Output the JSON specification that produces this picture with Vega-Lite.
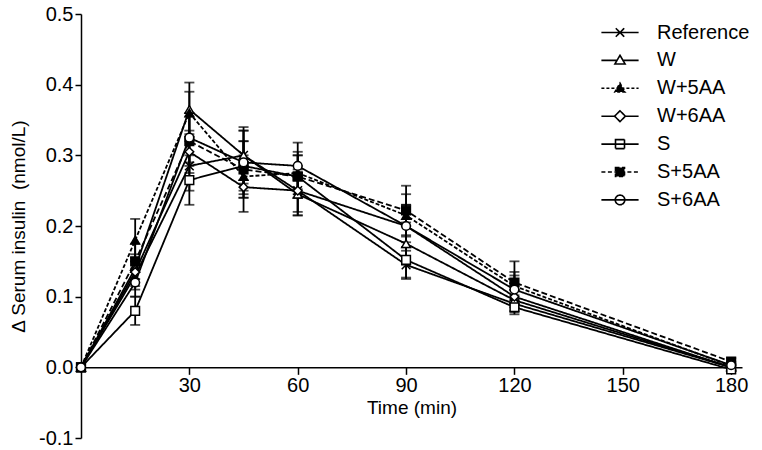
{
  "$schema": "https://vega.github.io/schema/vega-lite/v6.json",
  "autosize": {"type": "none"},
  "width": 661,
  "height": 424,
  "padding": {"left": 81, "top": 14, "right": 20, "bottom": 12},
  "config": {
    "view": {"stroke": null},
    "font": "Liberation Sans",
    "axis": {"labelColor": "black", "titleColor": "black", "domainColor": "black", "tickColor": "black", "domainWidth": 1.5, "tickWidth": 1.5, "grid": false, "labelFont": "Liberation Sans", "titleFont": "Liberation Sans", "titleFontWeight": "normal"},
    "legend": {"labelFont": "Liberation Sans", "labelColor": "black"}
  },
  "data": {"values": [
    {"g": "Reference", "t": 0, "m": 0, "e": 0},
    {"g": "Reference", "t": 15, "m": 0.13, "e": 0.02},
    {"g": "Reference", "t": 30, "m": 0.285, "e": 0.035},
    {"g": "Reference", "t": 45, "m": 0.3, "e": 0.035},
    {"g": "Reference", "t": 60, "m": 0.25, "e": 0.035},
    {"g": "Reference", "t": 90, "m": 0.145, "e": 0.02},
    {"g": "Reference", "t": 120, "m": 0.09, "e": 0.012},
    {"g": "Reference", "t": 180, "m": 0.0, "e": 0.005},
    {"g": "W", "t": 0, "m": 0, "e": 0},
    {"g": "W", "t": 15, "m": 0.14, "e": 0.02},
    {"g": "W", "t": 30, "m": 0.365, "e": 0.038},
    {"g": "W", "t": 45, "m": 0.3, "e": 0.04},
    {"g": "W", "t": 60, "m": 0.245, "e": 0.03},
    {"g": "W", "t": 90, "m": 0.175, "e": 0.03},
    {"g": "W", "t": 120, "m": 0.095, "e": 0.015},
    {"g": "W", "t": 180, "m": 0.0, "e": 0.005},
    {"g": "W+5AA", "t": 0, "m": 0, "e": 0},
    {"g": "W+5AA", "t": 15, "m": 0.18, "e": 0.03},
    {"g": "W+5AA", "t": 30, "m": 0.36, "e": 0.03},
    {"g": "W+5AA", "t": 45, "m": 0.27, "e": 0.03},
    {"g": "W+5AA", "t": 60, "m": 0.275, "e": 0.03},
    {"g": "W+5AA", "t": 90, "m": 0.215, "e": 0.03},
    {"g": "W+5AA", "t": 120, "m": 0.115, "e": 0.02},
    {"g": "W+5AA", "t": 180, "m": 0.002, "e": 0.005},
    {"g": "W+6AA", "t": 0, "m": 0, "e": 0},
    {"g": "W+6AA", "t": 15, "m": 0.135, "e": 0.02},
    {"g": "W+6AA", "t": 30, "m": 0.305, "e": 0.03},
    {"g": "W+6AA", "t": 45, "m": 0.255, "e": 0.035},
    {"g": "W+6AA", "t": 60, "m": 0.25, "e": 0.03},
    {"g": "W+6AA", "t": 90, "m": 0.2, "e": 0.03},
    {"g": "W+6AA", "t": 120, "m": 0.1, "e": 0.015},
    {"g": "W+6AA", "t": 180, "m": 0.0, "e": 0.005},
    {"g": "S", "t": 0, "m": 0, "e": 0},
    {"g": "S", "t": 15, "m": 0.08, "e": 0.02},
    {"g": "S", "t": 30, "m": 0.265, "e": 0.035},
    {"g": "S", "t": 45, "m": 0.285, "e": 0.035},
    {"g": "S", "t": 60, "m": 0.27, "e": 0.03},
    {"g": "S", "t": 90, "m": 0.152, "e": 0.025},
    {"g": "S", "t": 120, "m": 0.085, "e": 0.01},
    {"g": "S", "t": 180, "m": -0.003, "e": 0.005},
    {"g": "S+5AA", "t": 0, "m": 0, "e": 0},
    {"g": "S+5AA", "t": 15, "m": 0.15, "e": 0.025},
    {"g": "S+5AA", "t": 30, "m": 0.32, "e": 0.035},
    {"g": "S+5AA", "t": 45, "m": 0.28, "e": 0.04},
    {"g": "S+5AA", "t": 60, "m": 0.27, "e": 0.03},
    {"g": "S+5AA", "t": 90, "m": 0.222, "e": 0.035},
    {"g": "S+5AA", "t": 120, "m": 0.12, "e": 0.03},
    {"g": "S+5AA", "t": 180, "m": 0.008, "e": 0.005},
    {"g": "S+6AA", "t": 0, "m": 0, "e": 0},
    {"g": "S+6AA", "t": 15, "m": 0.12, "e": 0.02},
    {"g": "S+6AA", "t": 30, "m": 0.325, "e": 0.035},
    {"g": "S+6AA", "t": 45, "m": 0.29, "e": 0.045},
    {"g": "S+6AA", "t": 60, "m": 0.285, "e": 0.033},
    {"g": "S+6AA", "t": 90, "m": 0.2, "e": 0.03},
    {"g": "S+6AA", "t": 120, "m": 0.11, "e": 0.02},
    {"g": "S+6AA", "t": 180, "m": 0.003, "e": 0.005}
  ]},
  "encoding": {
    "x": {"field": "t", "type": "quantitative", "scale": {"domain": [0, 183], "nice": false, "zero": false},
      "axis": {"values": [30, 60, 90, 120, 150, 180], "offset": -70.67, "title": "Time (min)", "labelFontSize": 20, "titleFontSize": 19, "tickSize": 7, "labelPadding": 1, "titlePadding": 3, "labelFlush": false}},
    "y": {"field": "m", "type": "quantitative", "scale": {"domain": [-0.1, 0.5], "nice": false, "zero": false},
      "axis": {"values": [-0.1, 0, 0.1, 0.2, 0.3, 0.4, 0.5], "format": ".1f", "labelExpr": "replace(datum.label, '−', '-')", "title": "Δ Serum insulin\u00a0 (nmol/L)", "labelFontSize": 20, "titleFontSize": 19, "tickSize": 6, "labelPadding": 2, "titlePadding": 10}}
  },
  "layer": [
    {
      "mark": {"type": "line", "color": "black", "strokeWidth": 1.8},
      "encoding": {
        "detail": {"field": "g"},
        "strokeDash": {"field": "g", "type": "nominal", "legend": null,
          "scale": {"domain": ["Reference", "W", "W+5AA", "W+6AA", "S", "S+5AA", "S+6AA"],
            "range": [[1, 0], [1, 0], [4, 2], [1, 0], [1, 0], [6, 3], [1, 0]]}}
      }
    },
    {
      "mark": {"type": "errorbar", "color": "black", "ticks": {"size": 10, "thickness": 1.8, "color": "black"}, "rule": {"strokeWidth": 1.8}},
      "encoding": {
        "y": {"field": "m", "type": "quantitative"},
        "yError": {"field": "e"},
        "detail": {"field": "g"}
      }
    },
    {
      "mark": {"type": "point", "filled": true, "stroke": "black", "strokeWidth": 1.5, "size": 75, "opacity": 1},
      "encoding": {
        "shape": {"field": "g", "type": "nominal", "legend": null,
          "scale": {"domain": ["Reference", "W", "W+5AA", "W+6AA", "S", "S+5AA", "S+6AA"],
            "range": ["M-1,-1L1,1M-1,1L1,-1", "triangle-up", "triangle-up", "diamond", "square", "square", "circle"]}},
        "fill": {"field": "g", "type": "nominal", "legend": null,
          "scale": {"domain": ["Reference", "W", "W+5AA", "W+6AA", "S", "S+5AA", "S+6AA"],
            "range": ["black", "white", "black", "white", "white", "black", "white"]}}
      }
    },
    {
      "transform": [{"filter": "datum.t < 0"}],
      "mark": {"type": "point", "filled": true, "stroke": "black", "strokeWidth": 1.6, "size": 144, "opacity": 1},
      "encoding": {
        "shape": {"field": "g", "type": "nominal",
          "scale": {"domain": ["Reference", "W", "W+5AA", "W+6AA", "S", "S+5AA", "S+6AA"],
            "range": [
              "M-3.1,0L3.1,0M-0.7,-0.7L0.7,0.7M-0.7,0.7L0.7,-0.7",
              "M-3.1,0L-0.55,0M0.55,0L3.1,0M0,-0.85L0.85,0.6L-0.85,0.6Z",
              "M-3.1,0L3.1,0M0,-0.85L0.85,0.6L-0.85,0.6Z",
              "M-3.1,0L-0.9,0M0.9,0L3.1,0M0,-0.9L0.9,0L0,0.9L-0.9,0Z",
              "M-3.1,0L3.1,0M-0.75,-0.75L0.75,-0.75L0.75,0.75L-0.75,0.75Z",
              "M-3.1,0L3.1,0M-0.75,-0.75L0.75,-0.75L0.75,0.75L-0.75,0.75Z",
              "M-3.1,0L3.1,0M-0.8,0A0.8,0.8 0 1,0 0.8,0A0.8,0.8 0 1,0 -0.8,0Z"
            ]},
          "legend": {"title": null, "orient": "none", "legendX": 529, "legendY": 8.5, "symbolSize": 144, "labelFontSize": 20, "labelOffset": 27, "rowPadding": 7.9, "symbolStrokeWidth": 1.6, "padding": 0}},
        "fill": {"field": "g", "type": "nominal",
          "scale": {"domain": ["Reference", "W", "W+5AA", "W+6AA", "S", "S+5AA", "S+6AA"],
            "range": ["black", "white", "black", "white", "white", "black", "white"]},
          "legend": {"title": null, "orient": "none", "legendX": 529, "legendY": 8.5, "symbolSize": 144, "labelFontSize": 20, "labelOffset": 27, "rowPadding": 7.9, "symbolStrokeWidth": 1.6, "padding": 0}},
        "strokeDash": {"field": "g", "type": "nominal",
          "scale": {"domain": ["Reference", "W", "W+5AA", "W+6AA", "S", "S+5AA", "S+6AA"],
            "range": [[1, 0], [1, 0], [3, 2], [1, 0], [1, 0], [4, 2.5], [1, 0]]},
          "legend": {"title": null, "orient": "none", "legendX": 529, "legendY": 8.5, "symbolSize": 144, "labelFontSize": 20, "labelOffset": 27, "rowPadding": 7.9, "symbolStrokeWidth": 1.6, "padding": 0}}
      }
    }
  ],
  "resolve": {"scale": {"shape": "independent", "fill": "independent", "strokeDash": "independent"}}
}
